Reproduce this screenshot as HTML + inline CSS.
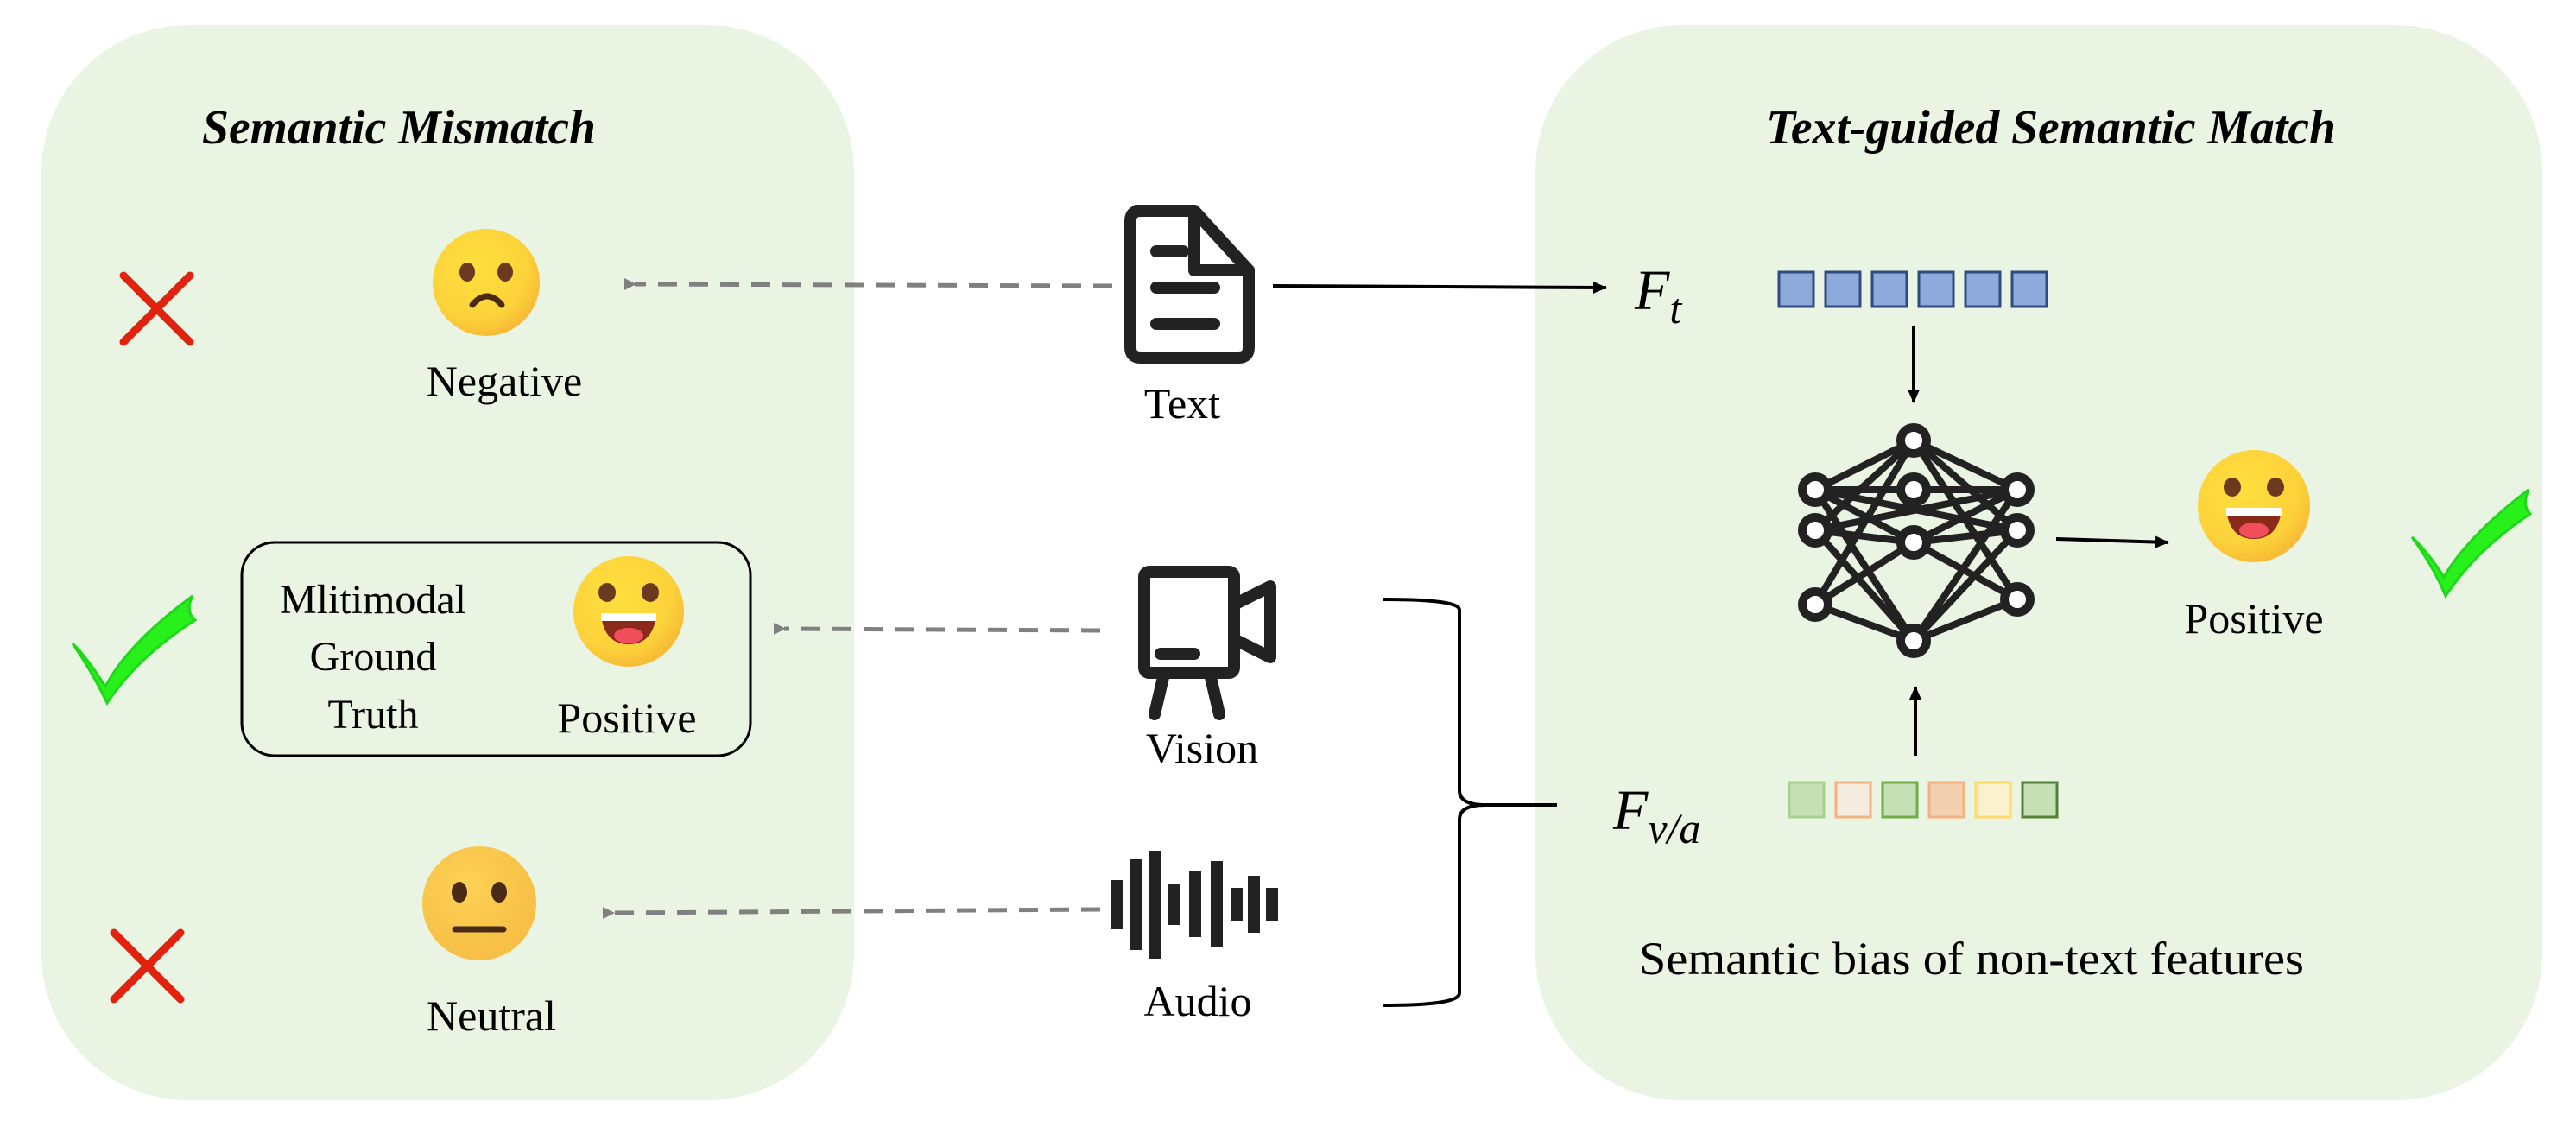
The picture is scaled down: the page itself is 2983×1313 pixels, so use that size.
<!DOCTYPE html>
<html><head><meta charset="utf-8"><style>html,body{margin:0;padding:0;background:#fff}svg{display:block}</style></head>
<body>
<svg width="2983" height="1313" viewBox="0 0 2983 1313" xmlns="http://www.w3.org/2000/svg" font-family="Liberation Serif, serif">
<defs>
<radialGradient id="emo" cx="0.4" cy="0.35" r="0.7"><stop offset="0" stop-color="#ffdf3d"/><stop offset="0.7" stop-color="#fcd23a"/><stop offset="1" stop-color="#f6b634"/></radialGradient>
<radialGradient id="emo2" cx="0.4" cy="0.35" r="0.7"><stop offset="0" stop-color="#fdd154"/><stop offset="1" stop-color="#f7bd45"/></radialGradient>
<marker id="ahg" markerWidth="14" markerHeight="14" refX="2" refY="7" orient="auto" markerUnits="userSpaceOnUse"><path d="M14,0 L0,7 L14,14 z" fill="#808080"/></marker>
<marker id="ahb" markerWidth="16" markerHeight="14" refX="15" refY="7" orient="auto" markerUnits="userSpaceOnUse"><path d="M0,0 L16,7 L0,14 z" fill="#000"/></marker>
</defs>
<rect x="48" y="29" width="941" height="1245" rx="170" fill="#e9f4e2"/>
<rect x="1778" y="29" width="1166" height="1245" rx="170" fill="#e9f4e2"/>

<text x="462" y="166" font-size="56" font-weight="bold" font-style="italic" text-anchor="middle" textLength="456" lengthAdjust="spacingAndGlyphs">Semantic Mismatch</text>
<text x="2375" y="166" font-size="56" font-weight="bold" font-style="italic" text-anchor="middle" textLength="660" lengthAdjust="spacingAndGlyphs">Text-guided Semantic Match</text>

<g stroke="#e0220f" stroke-width="9" stroke-linecap="round">
<line x1="143" y1="319" x2="220" y2="396"/><line x1="220" y1="319" x2="143" y2="396"/>
<line x1="132" y1="1080" x2="209" y2="1157"/><line x1="209" y1="1080" x2="132" y2="1157"/>
</g>

<circle cx="563" cy="327" r="62" fill="url(#emo)"/>
<ellipse cx="541" cy="315" rx="9" ry="11" fill="#6b3a1e"/><ellipse cx="585" cy="315" rx="9" ry="11" fill="#6b3a1e"/>
<path d="M547,353 Q564,333 581,353" stroke="#4a2a14" stroke-width="7" fill="none" stroke-linecap="round"/>
<text x="584" y="458" font-size="50" text-anchor="middle">Negative</text>

<rect x="280" y="628" width="589" height="247" rx="38" fill="none" stroke="#000" stroke-width="3"/>
<text font-size="48" text-anchor="middle"><tspan x="432" y="710">Mlitimodal</tspan><tspan x="432" y="776">Ground</tspan><tspan x="432" y="843">Truth</tspan></text>
<g transform="translate(728,708)">
<circle r="64" fill="url(#emo)"/>
<ellipse cx="-25" cy="-22" rx="10" ry="11" fill="#6b3a1e"/><ellipse cx="25" cy="-22" rx="10" ry="11" fill="#6b3a1e"/>
<path d="M-32,4 L32,4 Q28,38 0,38 Q-28,38 -32,4 z" fill="#8a2a1a"/>
<rect x="-32" y="2" width="64" height="9" fill="#fff"/>
<ellipse cx="0" cy="28" rx="17" ry="9" fill="#f04e5a"/>
</g>
<text x="726" y="848" font-size="50" text-anchor="middle">Positive</text>

<path d="M84,745 Q100,760 122,795 Q148,745 223,690 Q214,708 226,718 Q160,760 124,814 Q108,780 84,745 z" fill="#27f01b" stroke="#1fd81a" stroke-width="3"/>

<circle cx="555" cy="1046" r="66" fill="url(#emo2)"/>
<ellipse cx="532" cy="1033" rx="9" ry="12" fill="#4a2a14"/><ellipse cx="578" cy="1033" rx="9" ry="12" fill="#4a2a14"/>
<line x1="527" y1="1076" x2="583" y2="1076" stroke="#4a2a14" stroke-width="7" stroke-linecap="round"/>
<text x="569" y="1193" font-size="50" text-anchor="middle">Neutral</text>

<g stroke="#808080" stroke-width="5" stroke-dasharray="22,14" fill="none">
<line x1="1288" y1="331" x2="735" y2="329" marker-end="url(#ahg)"/>
<line x1="1274" y1="730" x2="908" y2="728" marker-end="url(#ahg)"/>
<line x1="1274" y1="1053" x2="710" y2="1057" marker-end="url(#ahg)"/>
</g>

<g stroke="#222" stroke-width="14" fill="none" stroke-linejoin="round" stroke-linecap="round">
<path d="M1316,244 L1383,244 L1446,313 L1446,402 Q1446,414 1434,414 L1321,414 Q1309,414 1309,402 L1309,256 Q1309,244 1321,244 z"/>
<path d="M1383,244 L1383,313 L1446,313"/>
<line x1="1339" y1="291" x2="1370" y2="291"/><line x1="1339" y1="333" x2="1406" y2="333"/><line x1="1339" y1="375" x2="1406" y2="375"/>
</g>
<text x="1369" y="484" font-size="50" text-anchor="middle">Text</text>

<g stroke="#222" stroke-width="14" fill="none" stroke-linejoin="round" stroke-linecap="round">
<rect x="1325" y="662" width="104" height="117" rx="6"/>
<path d="M1429,700 L1471,679 L1471,761 L1429,740"/>
<line x1="1344" y1="757" x2="1383" y2="757"/>
<line x1="1348" y1="780" x2="1337" y2="827"/><line x1="1401" y1="780" x2="1412" y2="827"/>
</g>
<text x="1392" y="883" font-size="50" text-anchor="middle">Vision</text>

<g fill="#222">
<rect x="1286" y="1019" width="14" height="57"/>
<rect x="1308" y="995" width="14" height="105"/>
<rect x="1330" y="985" width="14" height="125"/>
<rect x="1353" y="1023" width="14" height="48"/>
<rect x="1377" y="1009" width="14" height="76"/>
<rect x="1402" y="997" width="14" height="100"/>
<rect x="1425" y="1028" width="14" height="38"/>
<rect x="1445" y="1014" width="14" height="66"/>
<rect x="1466" y="1028" width="14" height="38"/>
</g>
<text x="1387" y="1176" font-size="50" text-anchor="middle">Audio</text>

<line x1="1474" y1="331" x2="1860" y2="333" stroke="#000" stroke-width="4" marker-end="url(#ahb)"/>

<path d="M1602,694 Q1690,694 1690,706 L1690,915 Q1690,932 1720,932 L1803,932 M1720,932 Q1690,932 1690,949 L1690,1150 Q1690,1164 1602,1164" stroke="#000" stroke-width="4" fill="none"/>

<text x="1893" y="358" font-size="66" font-style="italic">F<tspan font-size="50" dy="16">t</tspan></text>
<g fill="#8eaadc" stroke="#2f4a7d" stroke-width="3">
<rect x="2060" y="315" width="40" height="40"/><rect x="2114" y="315" width="40" height="40"/><rect x="2168" y="315" width="40" height="40"/>
<rect x="2222" y="315" width="40" height="40"/><rect x="2276" y="315" width="40" height="40"/><rect x="2330" y="315" width="40" height="40"/>
</g>
<line x1="2216" y1="377" x2="2216" y2="466" stroke="#000" stroke-width="4" marker-end="url(#ahb)"/>

<g stroke="#222" stroke-width="8">
<line x1="2216" y1="510" x2="2102" y2="567"/><line x1="2216" y1="510" x2="2102" y2="614"/><line x1="2216" y1="510" x2="2336" y2="567"/><line x1="2216" y1="510" x2="2336" y2="614"/><line x1="2216" y1="510" x2="2102" y2="700"/><line x1="2216" y1="510" x2="2336" y2="694"/>
<line x1="2102" y1="567" x2="2336" y2="567"/><line x1="2102" y1="567" x2="2216" y2="628"/><line x1="2336" y1="567" x2="2216" y2="628"/>
<line x1="2102" y1="614" x2="2216" y2="628"/><line x1="2336" y1="614" x2="2216" y2="628"/><line x1="2102" y1="567" x2="2336" y2="614"/><line x1="2336" y1="567" x2="2102" y2="614"/>
<line x1="2216" y1="628" x2="2102" y2="700"/><line x1="2216" y1="628" x2="2336" y2="694"/>
<line x1="2102" y1="614" x2="2216" y2="742"/><line x1="2336" y1="614" x2="2216" y2="742"/>
<line x1="2102" y1="700" x2="2216" y2="742"/><line x1="2336" y1="694" x2="2216" y2="742"/>
<line x1="2102" y1="567" x2="2216" y2="742"/><line x1="2336" y1="567" x2="2216" y2="742"/>
</g>
<g fill="#fff" stroke="#222" stroke-width="10">
<circle cx="2216" cy="510" r="15"/><circle cx="2216" cy="567" r="15"/><circle cx="2216" cy="628" r="15"/><circle cx="2216" cy="742" r="15"/>
<circle cx="2102" cy="567" r="15"/><circle cx="2102" cy="614" r="15"/><circle cx="2102" cy="700" r="15"/>
<circle cx="2336" cy="567" r="15"/><circle cx="2336" cy="614" r="15"/><circle cx="2336" cy="694" r="15"/>
</g>
<line x1="2381" y1="624" x2="2511" y2="628" stroke="#000" stroke-width="4" marker-end="url(#ahb)"/>

<g transform="translate(2610,586)">
<circle r="65" fill="url(#emo)"/>
<ellipse cx="-25" cy="-22" rx="10" ry="11" fill="#6b3a1e"/><ellipse cx="25" cy="-22" rx="10" ry="11" fill="#6b3a1e"/>
<path d="M-32,4 L32,4 Q28,38 0,38 Q-28,38 -32,4 z" fill="#8a2a1a"/>
<rect x="-32" y="2" width="64" height="9" fill="#fff"/>
<ellipse cx="0" cy="28" rx="17" ry="9" fill="#f04e5a"/>
</g>
<text x="2610" y="733" font-size="50" text-anchor="middle">Positive</text>

<path d="M2793,622 Q2810,637 2830,668 Q2858,620 2928,567 Q2920,585 2930,595 Q2868,636 2832,690 Q2818,656 2793,622 z" fill="#27f01b" stroke="#1fd81a" stroke-width="3"/>

<line x1="2218" y1="875" x2="2218" y2="795" stroke="#000" stroke-width="4" marker-end="url(#ahb)"/>
<text x="1868" y="960" font-size="66" font-style="italic">F<tspan font-size="50" dy="16">v/a</tspan></text>
<g stroke-width="3">
<rect x="2072" y="906" width="40" height="40" fill="#c5e0b4" stroke="#a9d18e"/>
<rect x="2126" y="906" width="40" height="40" fill="#f6ebdf" stroke="#f4b183"/>
<rect x="2180" y="906" width="40" height="40" fill="#c5e0b4" stroke="#70ad47"/>
<rect x="2234" y="906" width="40" height="40" fill="#f2d0b0" stroke="#f4b183"/>
<rect x="2288" y="906" width="40" height="40" fill="#fcf1cf" stroke="#ffd966"/>
<rect x="2342" y="906" width="40" height="40" fill="#c5e0b4" stroke="#548235"/>
</g>
<text x="2283" y="1128" font-size="54" text-anchor="middle" textLength="770" lengthAdjust="spacingAndGlyphs">Semantic bias of non-text features</text>
</svg>
</body></html>
